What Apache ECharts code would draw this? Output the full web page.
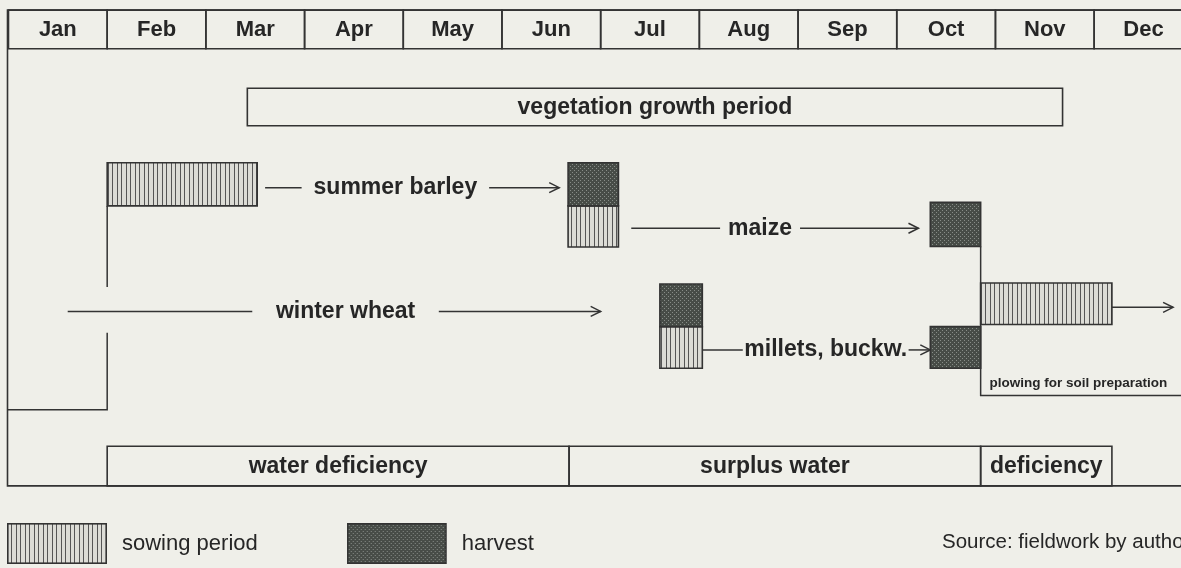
<!DOCTYPE html>
<html>
<head>
<meta charset="utf-8">
<title>Crop calendar</title>
<script src="https://cdn.jsdelivr.net/npm/echarts@6/dist/echarts.min.js"></script>
<style>
html, body { margin: 0; padding: 0; background: #efefe9; }
#chart { width: 1181px; height: 568px; }
</style>
</head>
<body>
<div id="chart"></div>
<script>
// header months
var months = ['Jan', 'Feb', 'Mar', 'Apr', 'May', 'Jun', 'Jul', 'Aug', 'Sep', 'Oct', 'Nov', 'Dec'];

// periods in months from 1 January (0 = start of Jan, 12 = end of Dec)
var vegetationPeriod = ['vegetation growth period', 2.42, 10.68];

var sowingPeriods = [
    ['barley', 1.0, 2.52],
    ['maize', 5.67, 6.18],
    ['millet', 6.6, 7.03],
    ['plow', 9.85, 11.18]
];

var harvestPeriods = [
    ['barley', 5.67, 6.18],
    ['maizeHarvest', 9.34, 9.85],
    ['wheat', 6.6, 7.03],
    ['millet', 9.34, 9.85]
];

var waterPeriods = [
    ['water deficiency', 1.0, 5.68],
    ['surplus water', 5.68, 9.85],
    ['deficiency', 9.85, 11.18]
];

// crop arrows: lane, label, line start, label gap start, label gap end, arrow tip
var cropArrows = [
    ['barley', 'summer barley', 2.6, 2.97, 4.87, 5.58],
    ['maize', 'maize', 6.31, 7.21, 8.02, 9.22],
    ['wheat', 'winter wheat', 0.6, 2.47, 4.36, 6.0],
    ['millet', 'millets, buckw.', 7.03, 7.44, 9.12, 9.34],
    ['plow', '', 11.18, 11.18, 11.18, 11.8]
];

// layout, y in row units (0 top .. 56 bottom)
var lanes = {
    barley: { top: 16.05, bottom: 20.3, line: 18.5 },
    maize: { top: 20.3, bottom: 24.35, line: 22.5 },
    maizeHarvest: { top: 19.95, bottom: 24.3, line: 22.5 },
    wheat: { top: 28.0, bottom: 32.2, line: 30.7 },
    millet: { top: 32.2, bottom: 36.3, line: 34.5 },
    plow: { top: 27.9, bottom: 32.0, line: 30.3 }
};
var frame = { left: -0.01, right: 12.3, top: 1.0, headerBottom: 4.8, bottom: 47.9 };
var vegRow = { top: 8.7, bottom: 12.4 };
var waterRow = { top: 44.0, bottom: 47.9 };
var brackets = [
    [[1.0, 20.3], [1.0, 28.3]],
    [[1.0, 32.8], [1.0, 40.4], [-0.01, 40.4]],
    [[9.85, 24.3], [9.85, 39.0], [12.3, 39.0]]
];
var plowNote = { text: 'plowing for soil preparation', x: 10.84, y: 37.75 };

var INK = '#333';
var TEXT = '#262626';
var FONT = '"Liberation Sans", Arial, sans-serif';

function makePattern(kind) {
    var c = document.createElement('canvas');
    var g = c.getContext('2d');
    if (kind === 'sow') {
        c.width = 9; c.height = 4;
        g.fillStyle = '#dcdcd6'; g.fillRect(0, 0, 9, 4);
        g.fillStyle = '#555'; g.fillRect(0, 0, 1, 4); g.fillRect(4, 0, 1, 4);
    } else {
        c.width = 4; c.height = 4;
        g.fillStyle = '#474c47'; g.fillRect(0, 0, 4, 4);
        g.fillStyle = '#878c87'; g.fillRect(0, 0, 1, 1); g.fillRect(2, 2, 1, 1);
    }
    return c;
}
var sowPattern = makePattern('sow');
var harvestPattern = makePattern('harvest');

// legend swatch: 100x41 box plus transparent margin
function legendIcon(pat) {
    var c = document.createElement('canvas');
    c.width = 110; c.height = 41;
    var g = c.getContext('2d');
    g.fillStyle = g.createPattern(pat, 'repeat');
    g.fillRect(0, 0, 100, 41);
    g.strokeStyle = INK; g.lineWidth = 1.6;
    g.strokeRect(0.8, 0.8, 98.4, 39.4);
    return 'image://' + c.toDataURL();
}

function rect(api, x0, x1, y0, y1, fill) {
    var p0 = api.coord([x0, y0]);
    var p1 = api.coord([x1, y1]);
    return {
        type: 'rect',
        shape: { x: p0[0], y: p0[1], width: p1[0] - p0[0], height: p1[1] - p0[1] },
        style: { fill: fill, stroke: INK, lineWidth: 1.6 }
    };
}

function label(api, text, x, y, size, weight) {
    var p = api.coord([x, y]);
    return {
        type: 'text',
        style: {
            text: text, x: p[0], y: p[1], fill: TEXT,
            font: (weight || 'bold') + ' ' + size + 'px ' + FONT,
            align: 'center', verticalAlign: 'middle'
        }
    };
}

function seg(api, x0, x1, y) {
    var a = api.coord([x0, y]);
    var b = api.coord([x1, y]);
    return { type: 'line', shape: { x1: a[0], y1: a[1], x2: b[0], y2: b[1] }, style: { stroke: INK, lineWidth: 1.5 } };
}

var myChart = echarts.init(document.getElementById('chart'));

var option = {
    animation: false,
    backgroundColor: '#efefe9',
    title: {
        text: 'Source: fieldwork by author',
        left: 942, top: 532, padding: 0,
        textStyle: { fontSize: 20.5, fontWeight: 'normal', color: TEXT, fontFamily: FONT }
    },
    legend: {
        data: [
            { name: 'sowing period', icon: legendIcon(sowPattern) },
            { name: 'harvest', icon: legendIcon(harvestPattern) }
        ],
        left: 7, top: 523, padding: 0,
        itemWidth: 110, itemHeight: 41, itemGap: 89,
        selectedMode: false,
        textStyle: { fontSize: 22, color: TEXT, fontFamily: FONT }
    },
    grid: { left: 0, right: 0, top: 0, bottom: 0 },
    xAxis: { type: 'value', min: -0.086, max: 11.88, show: false },
    yAxis: { type: 'value', inverse: true, min: 0, max: 56, show: false },
    series: [
        {
            type: 'custom', name: 'frame', clip: false,
            data: [[0, 0]],
            renderItem: function (params, api) {
                var p0 = api.coord([frame.left, frame.top]);
                var p1 = api.coord([frame.right, frame.bottom]);
                return {
                    type: 'rect',
                    shape: { x: p0[0], y: p0[1], width: p1[0] - p0[0], height: p1[1] - p0[1] },
                    style: { fill: 'none', stroke: INK, lineWidth: 1.6 }
                };
            }
        },
        {
            type: 'custom', name: 'months', clip: false,
            data: months.map(function (m, i) { return [i, i + 1]; }),
            renderItem: function (params, api) {
                var i = params.dataIndex;
                return {
                    type: 'group',
                    children: [
                        rect(api, i, i + 1, frame.top, frame.headerBottom, 'none'),
                        label(api, months[i], i + 0.5, (frame.top + frame.headerBottom) / 2 + 0.1, 22)
                    ]
                };
            }
        },
        {
            type: 'custom', name: 'vegetation', clip: false,
            data: [[vegetationPeriod[1], vegetationPeriod[2]]],
            renderItem: function (params, api) {
                var x0 = api.value(0), x1 = api.value(1);
                return {
                    type: 'group',
                    children: [
                        rect(api, x0, x1, vegRow.top, vegRow.bottom, 'none'),
                        label(api, vegetationPeriod[0], (x0 + x1) / 2, (vegRow.top + vegRow.bottom) / 2 + 0.1, 23)
                    ]
                };
            }
        },
        {
            type: 'custom', name: 'water', clip: false,
            data: waterPeriods.map(function (d) { return [d[1], d[2]]; }),
            renderItem: function (params, api) {
                var x0 = api.value(0), x1 = api.value(1);
                return {
                    type: 'group',
                    children: [
                        rect(api, x0, x1, waterRow.top, waterRow.bottom, 'none'),
                        label(api, waterPeriods[params.dataIndex][0], (x0 + x1) / 2, (waterRow.top + waterRow.bottom) / 2 + 0.05, 23)
                    ]
                };
            }
        },
        {
            type: 'custom', name: 'brackets', clip: false,
            data: brackets.map(function (b, i) { return [i, 0]; }),
            renderItem: function (params, api) {
                var pts = brackets[params.dataIndex].map(function (p) { return api.coord(p); });
                var children = [{
                    type: 'polyline', shape: { points: pts },
                    style: { stroke: INK, lineWidth: 1.5, fill: null }
                }];
                if (params.dataIndex === 2) {
                    children.push(label(api, plowNote.text, plowNote.x, plowNote.y, 13.5));
                }
                return { type: 'group', children: children };
            }
        },
        {
            type: 'custom', name: 'arrows', clip: false,
            data: cropArrows.map(function (d) { return [d[2], d[5]]; }),
            renderItem: function (params, api) {
                var d = cropArrows[params.dataIndex];
                var y = lanes[d[0]].line;
                var tip = api.coord([d[5], y]);
                var children = [];
                if (d[3] > d[2]) children.push(seg(api, d[2], d[3], y));
                children.push(seg(api, d[4], d[5], y));
                children.push({
                    type: 'polyline',
                    shape: { points: [[tip[0] - 10, tip[1] - 5], [tip[0], tip[1]], [tip[0] - 10, tip[1] + 5]] },
                    style: { stroke: INK, lineWidth: 1.5, fill: null }
                });
                if (d[1]) children.push(label(api, d[1], (d[3] + d[4]) / 2, y, 23));
                return { type: 'group', children: children };
            }
        },
        {
            type: 'custom', name: 'sowing period', clip: false,
            data: sowingPeriods.map(function (d) { return [d[1], d[2]]; }),
            itemStyle: { color: '#999' },
            renderItem: function (params, api) {
                var lane = lanes[sowingPeriods[params.dataIndex][0]];
                return rect(api, api.value(0), api.value(1), lane.top, lane.bottom, { image: sowPattern, repeat: 'repeat' });
            }
        },
        {
            type: 'custom', name: 'harvest', clip: false,
            data: harvestPeriods.map(function (d) { return [d[1], d[2]]; }),
            itemStyle: { color: '#555' },
            renderItem: function (params, api) {
                var lane = lanes[harvestPeriods[params.dataIndex][0]];
                return rect(api, api.value(0), api.value(1), lane.top, lane.bottom, { image: harvestPattern, repeat: 'repeat' });
            }
        }
    ]
};

myChart.setOption(option);
</script>
</body>
</html>
